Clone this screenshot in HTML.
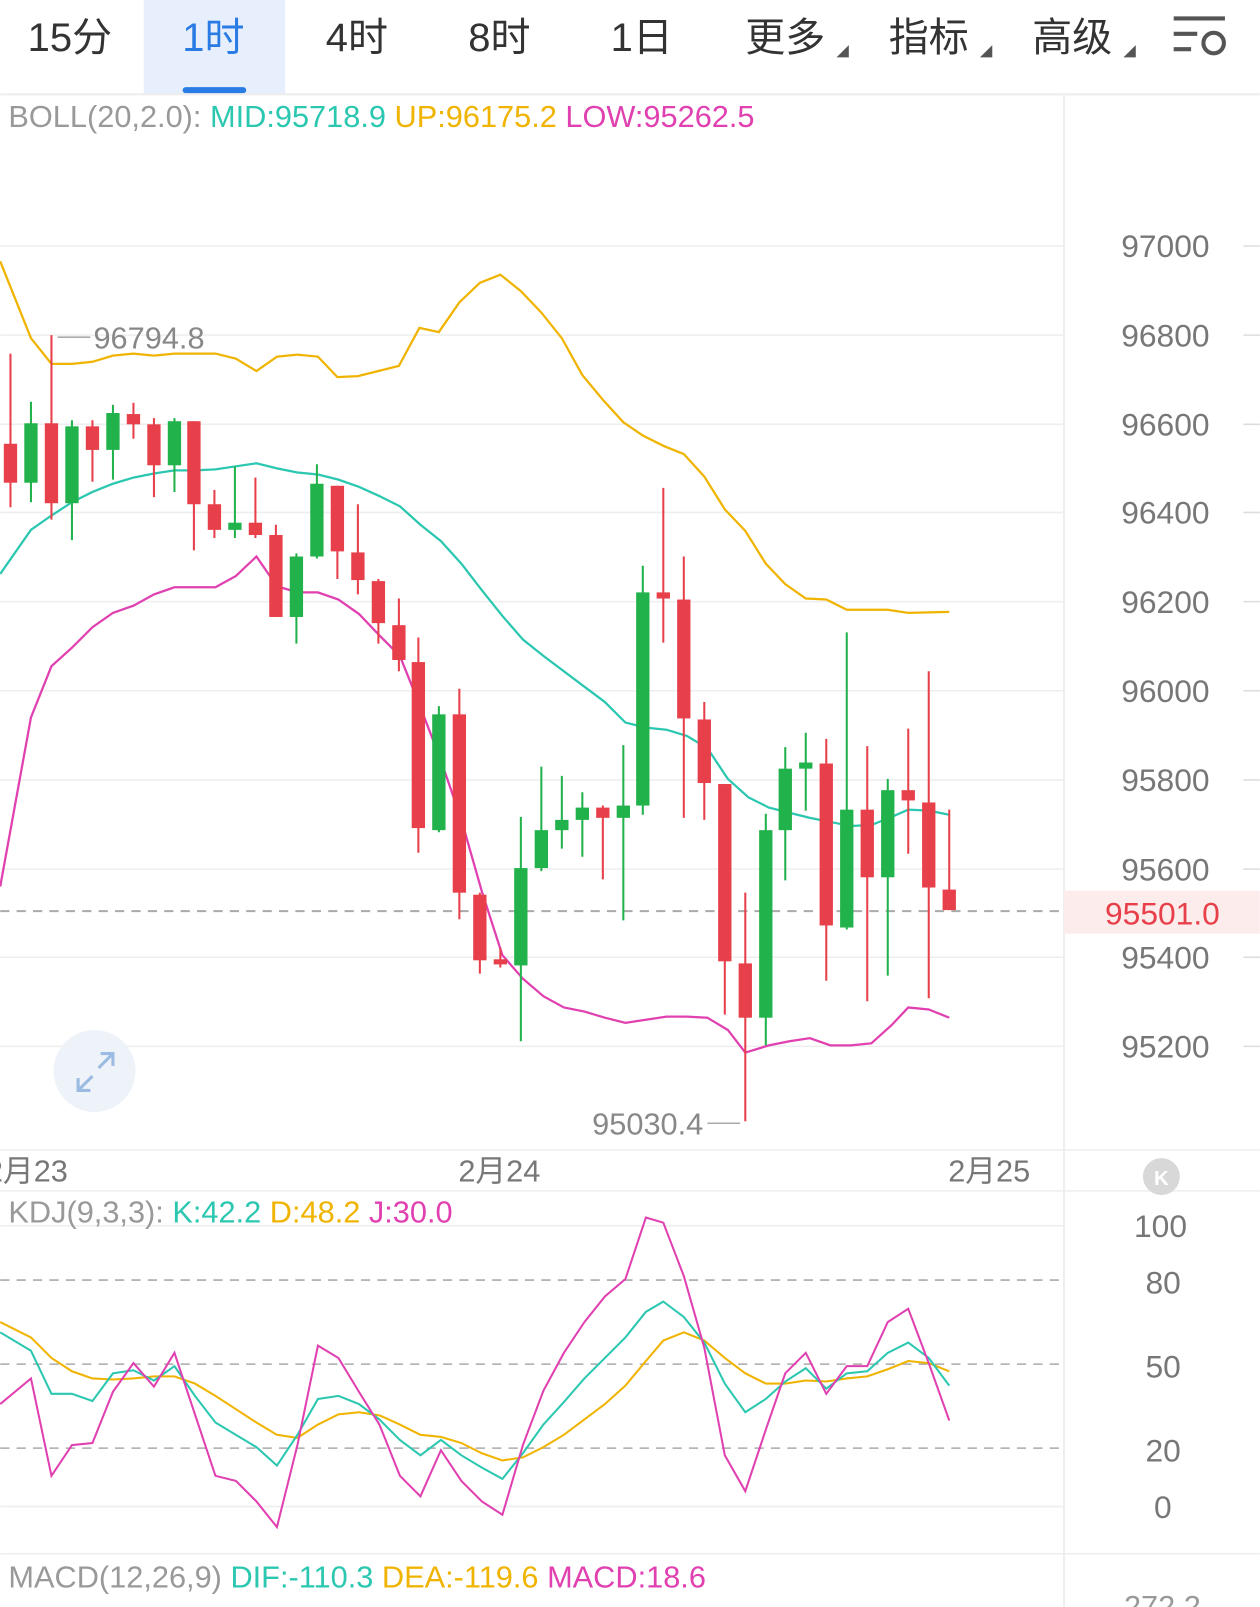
<!DOCTYPE html>
<html><head><meta charset="utf-8"><style>
html,body{margin:0;padding:0;background:#fff;}
svg{display:block;}
text{font-family:"Liberation Sans","Noto Sans CJK SC",sans-serif;}
</style></head><body>
<svg width="1260" height="1607" viewBox="0 0 1229 1568" xmlns="http://www.w3.org/2000/svg">
<rect width="1229" height="1568" fill="#fff"/>
<rect x="140" y="0" width="138" height="92" fill="#e6effb"/>
<rect x="178" y="85" width="62" height="6" rx="3" fill="#2a7be4"/>
<g font-size="39" fill="#333" text-anchor="middle">
<text x="68" y="50">15分</text>
<text x="208" y="50" fill="#2a7be4">1时</text>
<text x="348" y="50">4时</text>
<text x="487" y="50">8时</text>
<text x="626" y="50">1日</text>
<text x="766" y="50">更多</text>
<text x="906" y="50">指标</text>
<text x="1046" y="50">高级</text>
</g>
<g fill="#555"><path d="M816 56 L828 44 L828 56Z"/><path d="M956 56 L968 44 L968 56Z"/><path d="M1096 56 L1108 44 L1108 56Z"/></g>
<g stroke="#555" stroke-width="4" fill="none"><line x1="1145" y1="18" x2="1195" y2="18"/><line x1="1145" y1="33" x2="1168" y2="33"/><line x1="1145" y1="48" x2="1162" y2="48"/><circle cx="1184" cy="42" r="10"/></g>
<line x1="0" y1="92" x2="1229" y2="92" stroke="#eee" stroke-width="2"/>
<line x1="1038" y1="92" x2="1038" y2="1568" stroke="#eee" stroke-width="2"/>
<g stroke="#eee" stroke-width="1.5">
<line x1="0" y1="240" x2="1038" y2="240"/><line x1="0" y1="327" x2="1038" y2="327"/><line x1="0" y1="414" x2="1038" y2="414"/><line x1="0" y1="500" x2="1038" y2="500"/><line x1="0" y1="587" x2="1038" y2="587"/><line x1="0" y1="674" x2="1038" y2="674"/><line x1="0" y1="761" x2="1038" y2="761"/><line x1="0" y1="848" x2="1038" y2="848"/><line x1="0" y1="934" x2="1038" y2="934"/><line x1="0" y1="1021" x2="1038" y2="1021"/>
<line x1="0" y1="1122" x2="1229" y2="1122"/><line x1="0" y1="1162" x2="1229" y2="1162"/><line x1="0" y1="1516" x2="1229" y2="1516"/>
<line x1="0" y1="1196" x2="1038" y2="1196"/><line x1="0" y1="1470" x2="1038" y2="1470"/>
</g>
<g stroke="#ddd" stroke-width="1.5">
<line x1="1213" y1="240" x2="1229" y2="240"/><line x1="1213" y1="327" x2="1229" y2="327"/><line x1="1213" y1="414" x2="1229" y2="414"/><line x1="1213" y1="500" x2="1229" y2="500"/><line x1="1213" y1="587" x2="1229" y2="587"/><line x1="1213" y1="674" x2="1229" y2="674"/><line x1="1213" y1="761" x2="1229" y2="761"/><line x1="1213" y1="848" x2="1229" y2="848"/><line x1="1213" y1="934" x2="1229" y2="934"/><line x1="1213" y1="1021" x2="1229" y2="1021"/>
</g>
<g font-size="31" fill="#777" text-anchor="end">
<text x="1180" y="251">97000</text><text x="1180" y="338">96800</text><text x="1180" y="425">96600</text><text x="1180" y="511">96400</text><text x="1180" y="598">96200</text><text x="1180" y="685">96000</text><text x="1180" y="772">95800</text><text x="1180" y="859">95600</text><text x="1180" y="945">95400</text><text x="1180" y="1032">95200</text>
<text x="1158" y="1207">100</text><text x="1152" y="1262">80</text><text x="1152" y="1344">50</text><text x="1152" y="1426">20</text><text x="1143" y="1481">0</text>
</g>
<text x="8" y="124" font-size="30" fill="#999">BOLL(20,2.0): <tspan fill="#2cc7b0">MID:95718.9</tspan> <tspan fill="#f0b400">UP:96175.2</tspan> <tspan fill="#e040b0">LOW:95262.5</tspan></text>
<line x1="0" y1="889" x2="1038" y2="889" stroke="#aaa" stroke-width="2" stroke-dasharray="9,7"/>
<rect x="1038" y="869" width="191" height="42" fill="#fdecec"/>
<text x="1134" y="902" font-size="31" fill="#e8404a" text-anchor="middle">95501.0</text>
<polyline fill="none" stroke="#f0b400" stroke-width="2.2" points="0,255 30,330 50,355 70,355 90,353 110,347 130,345 150,347 170,345 190,345 210,345 230,350 250,362 270,348 290,346 310,348 329,368 349,367 369,362 389,357 409,320 428,324 448,295 468,276 488,268 508,284 528,305 548,330 568,366 588,390 608,412 627,425 647,435 667,443 687,465 707,497 727,518 747,550 766,570 786,584 806,585 826,595 846,595 866,595 886,598 926,597"/>
<polyline fill="none" stroke="#2cc7b0" stroke-width="2.2" points="0,560 30,517 50,503 70,490 90,480 110,472 130,466 150,462 170,459 190,459 210,458 230,455 250,452 270,457 290,461 310,463 330,468 350,475 370,484 390,494 410,512 430,528 450,550 470,576 490,601 510,624 530,640 550,655 570,670 590,685 610,705 630,710 650,712 670,718 690,730 710,760 730,778 750,788 770,793 790,798 810,802 830,806 850,805 870,797 886,790 906,791 926,795"/>
<polyline fill="none" stroke="#e040b0" stroke-width="2.2" points="0,865 30,700 50,650 70,632 90,612 110,598 130,591 150,580 170,573 190,573 210,573 230,562 250,543 270,572 290,578 310,578 330,585 350,599 370,620 390,640 410,690 430,742 450,800 470,870 490,932 510,955 530,972 550,983 570,987 590,993 610,998 630,995 650,992 670,992 690,993 710,1005 727,1027 750,1020 770,1016 790,1013 810,1020 830,1020 850,1018 870,1000 886,983 906,985 926,993"/>
<g stroke="#e8404a" stroke-width="2" fill="none">
<line x1="10" y1="345" x2="10" y2="495"/><line x1="50" y1="327" x2="50" y2="507"/><line x1="90" y1="410" x2="90" y2="470"/><line x1="130" y1="393" x2="130" y2="428"/><line x1="150" y1="408" x2="150" y2="485"/><line x1="189" y1="411" x2="189" y2="537"/><line x1="209" y1="478" x2="209" y2="525"/><line x1="249" y1="466" x2="249" y2="525"/><line x1="269" y1="512" x2="269" y2="602"/><line x1="329" y1="474" x2="329" y2="565"/><line x1="349" y1="492" x2="349" y2="580"/><line x1="369" y1="565" x2="369" y2="628"/><line x1="389" y1="584" x2="389" y2="655"/><line x1="408" y1="622" x2="408" y2="832"/><line x1="448" y1="672" x2="448" y2="897"/><line x1="468" y1="871" x2="468" y2="950"/><line x1="488" y1="925" x2="488" y2="944"/><line x1="588" y1="786" x2="588" y2="858"/><line x1="647" y1="476" x2="647" y2="627"/><line x1="667" y1="543" x2="667" y2="798"/><line x1="687" y1="685" x2="687" y2="800"/><line x1="707" y1="765" x2="707" y2="990"/><line x1="727" y1="871" x2="727" y2="1094"/><line x1="806" y1="721" x2="806" y2="957"/><line x1="846" y1="728" x2="846" y2="977"/><line x1="886" y1="711" x2="886" y2="833"/><line x1="906" y1="655" x2="906" y2="974"/><line x1="926" y1="790" x2="926" y2="888"/>
</g>
<g fill="#e8404a">
<rect x="3.5" y="433" width="13" height="38"/><rect x="43.5" y="413" width="13" height="78"/><rect x="83.5" y="416" width="13" height="23"/><rect x="123.5" y="404" width="13" height="10"/><rect x="143.5" y="414" width="13" height="40"/><rect x="182.5" y="411" width="13" height="81"/><rect x="202.5" y="492" width="13" height="25"/><rect x="242.5" y="510" width="13" height="12"/><rect x="262.5" y="522" width="13" height="80"/><rect x="322.5" y="474" width="13" height="64"/><rect x="342.5" y="539" width="13" height="27"/><rect x="362.5" y="567" width="13" height="41"/><rect x="382.5" y="610" width="13" height="34"/><rect x="401.5" y="646" width="13" height="162"/><rect x="441.5" y="697" width="13" height="174"/><rect x="461.5" y="873" width="13" height="64"/><rect x="481.5" y="936" width="13" height="5"/><rect x="581.5" y="788" width="13" height="10"/><rect x="640.5" y="578" width="13" height="6"/><rect x="660.5" y="585" width="13" height="116"/><rect x="680.5" y="702" width="13" height="62"/><rect x="700.5" y="765" width="13" height="173"/><rect x="720.5" y="940" width="13" height="53"/><rect x="799.5" y="745" width="13" height="158"/><rect x="839.5" y="790" width="13" height="66"/><rect x="879.5" y="771" width="13" height="10"/><rect x="899.5" y="783" width="13" height="83"/><rect x="919.5" y="868" width="13" height="20"/>
</g>
<g stroke="#22b24c" stroke-width="2" fill="none">
<line x1="30" y1="392" x2="30" y2="490"/><line x1="70" y1="410" x2="70" y2="527"/><line x1="110" y1="395" x2="110" y2="468"/><line x1="170" y1="408" x2="170" y2="480"/><line x1="229" y1="455" x2="229" y2="525"/><line x1="289" y1="540" x2="289" y2="628"/><line x1="309" y1="453" x2="309" y2="545"/><line x1="428" y1="689" x2="428" y2="812"/><line x1="508" y1="797" x2="508" y2="1016"/><line x1="528" y1="748" x2="528" y2="850"/><line x1="548" y1="757" x2="548" y2="828"/><line x1="568" y1="773" x2="568" y2="836"/><line x1="608" y1="727" x2="608" y2="898"/><line x1="627" y1="552" x2="627" y2="795"/><line x1="747" y1="794" x2="747" y2="1020"/><line x1="766" y1="729" x2="766" y2="859"/><line x1="786" y1="715" x2="786" y2="791"/><line x1="826" y1="617" x2="826" y2="907"/><line x1="866" y1="760" x2="866" y2="952"/>
</g>
<g fill="#22b24c">
<rect x="23.5" y="413" width="13" height="58"/><rect x="63.5" y="416" width="13" height="75"/><rect x="103.5" y="403" width="13" height="36"/><rect x="163.5" y="411" width="13" height="43"/><rect x="222.5" y="510" width="13" height="7"/><rect x="282.5" y="543" width="13" height="59"/><rect x="302.5" y="472" width="13" height="71"/><rect x="421.5" y="697" width="13" height="113"/><rect x="501.5" y="847" width="13" height="95"/><rect x="521.5" y="810" width="13" height="37"/><rect x="541.5" y="800" width="13" height="10"/><rect x="561.5" y="788" width="13" height="12"/><rect x="601.5" y="786" width="13" height="12"/><rect x="620.5" y="578" width="13" height="208"/><rect x="740.5" y="810" width="13" height="183"/><rect x="759.5" y="750" width="13" height="60"/><rect x="779.5" y="744" width="13" height="6"/><rect x="819.5" y="790" width="13" height="115"/><rect x="859.5" y="771" width="13" height="85"/>
</g>
<line x1="56" y1="329" x2="88" y2="329" stroke="#aaa" stroke-width="1.5"/>
<text x="91" y="340" font-size="30" fill="#888">96794.8</text>
<line x1="690" y1="1096" x2="722" y2="1096" stroke="#aaa" stroke-width="1.5"/>
<text x="686" y="1107" font-size="30" fill="#888" text-anchor="end">95030.4</text>
<circle cx="92" cy="1045" r="40" fill="#eef3fa"/>
<g stroke="#9bbbe3" stroke-width="3" fill="none"><path d="M76 1064 L90 1050 M76 1052 L76 1064 L88 1064"/><path d="M110 1028 L96 1042 M98 1028 L110 1028 L110 1040"/></g>
<g font-size="30" fill="#777"><text x="-14" y="1153">2月23</text><text x="447" y="1153">2月24</text><text x="925" y="1153">2月25</text></g>
<circle cx="1133" cy="1148" r="18" fill="#d8d8d8"/><text x="1133" y="1156" font-size="20" fill="#fff" text-anchor="middle" font-weight="bold">K</text>
<text x="8" y="1193" font-size="30" fill="#999">KDJ(9,3,3): <tspan fill="#2cc7b0">K:42.2</tspan> <tspan fill="#f0b400">D:48.2</tspan> <tspan fill="#e040b0">J:30.0</tspan></text>
<g stroke="#aaa" stroke-width="1.5" stroke-dasharray="9,7"><line x1="0" y1="1249" x2="1038" y2="1249"/><line x1="0" y1="1331" x2="1038" y2="1331"/><line x1="0" y1="1413" x2="1038" y2="1413"/></g>
<polyline fill="none" stroke="#f0b400" stroke-width="2" points="0,1290 30,1305 50,1325 70,1338 90,1345 110,1346 130,1345 150,1343 170,1343 190,1350 210,1362 230,1375 250,1388 270,1400 290,1403 310,1390 330,1380 350,1378 370,1381 390,1390 410,1400 430,1402 450,1408 470,1418 490,1425 510,1422 530,1412 550,1400 570,1385 590,1370 610,1352 630,1328 647,1308 667,1300 687,1308 707,1325 727,1340 747,1350 766,1350 786,1347 806,1348 826,1345 846,1343 866,1336 886,1328 906,1330 926,1338"/>
<polyline fill="none" stroke="#2cc7b0" stroke-width="2" points="0,1300 30,1318 50,1360 70,1360 90,1367 110,1340 130,1337 150,1347 170,1333 190,1362 210,1388 230,1400 250,1412 270,1430 290,1400 310,1365 330,1362 350,1370 370,1385 390,1405 410,1420 430,1405 450,1420 470,1432 490,1443 510,1418 530,1390 550,1368 570,1345 590,1325 610,1305 630,1280 647,1270 667,1285 687,1310 707,1350 727,1378 747,1365 766,1348 786,1335 806,1355 826,1340 846,1338 866,1320 886,1310 906,1325 926,1352"/>
<polyline fill="none" stroke="#e040b0" stroke-width="2" points="0,1370 30,1345 50,1440 70,1410 90,1408 110,1358 130,1330 150,1353 170,1320 190,1380 210,1440 230,1445 250,1465 270,1490 290,1410 310,1313 330,1325 350,1358 370,1390 390,1440 410,1460 430,1415 450,1445 470,1465 490,1478 510,1410 530,1357 550,1320 570,1290 590,1265 610,1248 630,1188 647,1193 667,1245 687,1315 707,1420 727,1455 747,1395 766,1340 786,1320 806,1360 826,1333 846,1333 866,1290 886,1277 906,1330 926,1386"/>
<text x="8" y="1549" font-size="30" fill="#999">MACD(12,26,9) <tspan fill="#2cc7b0">DIF:-110.3</tspan> <tspan fill="#f0b400">DEA:-119.6</tspan> <tspan fill="#e040b0">MACD:18.6</tspan></text>
<text x="1134" y="1578" font-size="30" fill="#999" text-anchor="middle">272.2</text>
</svg>
</body></html>
